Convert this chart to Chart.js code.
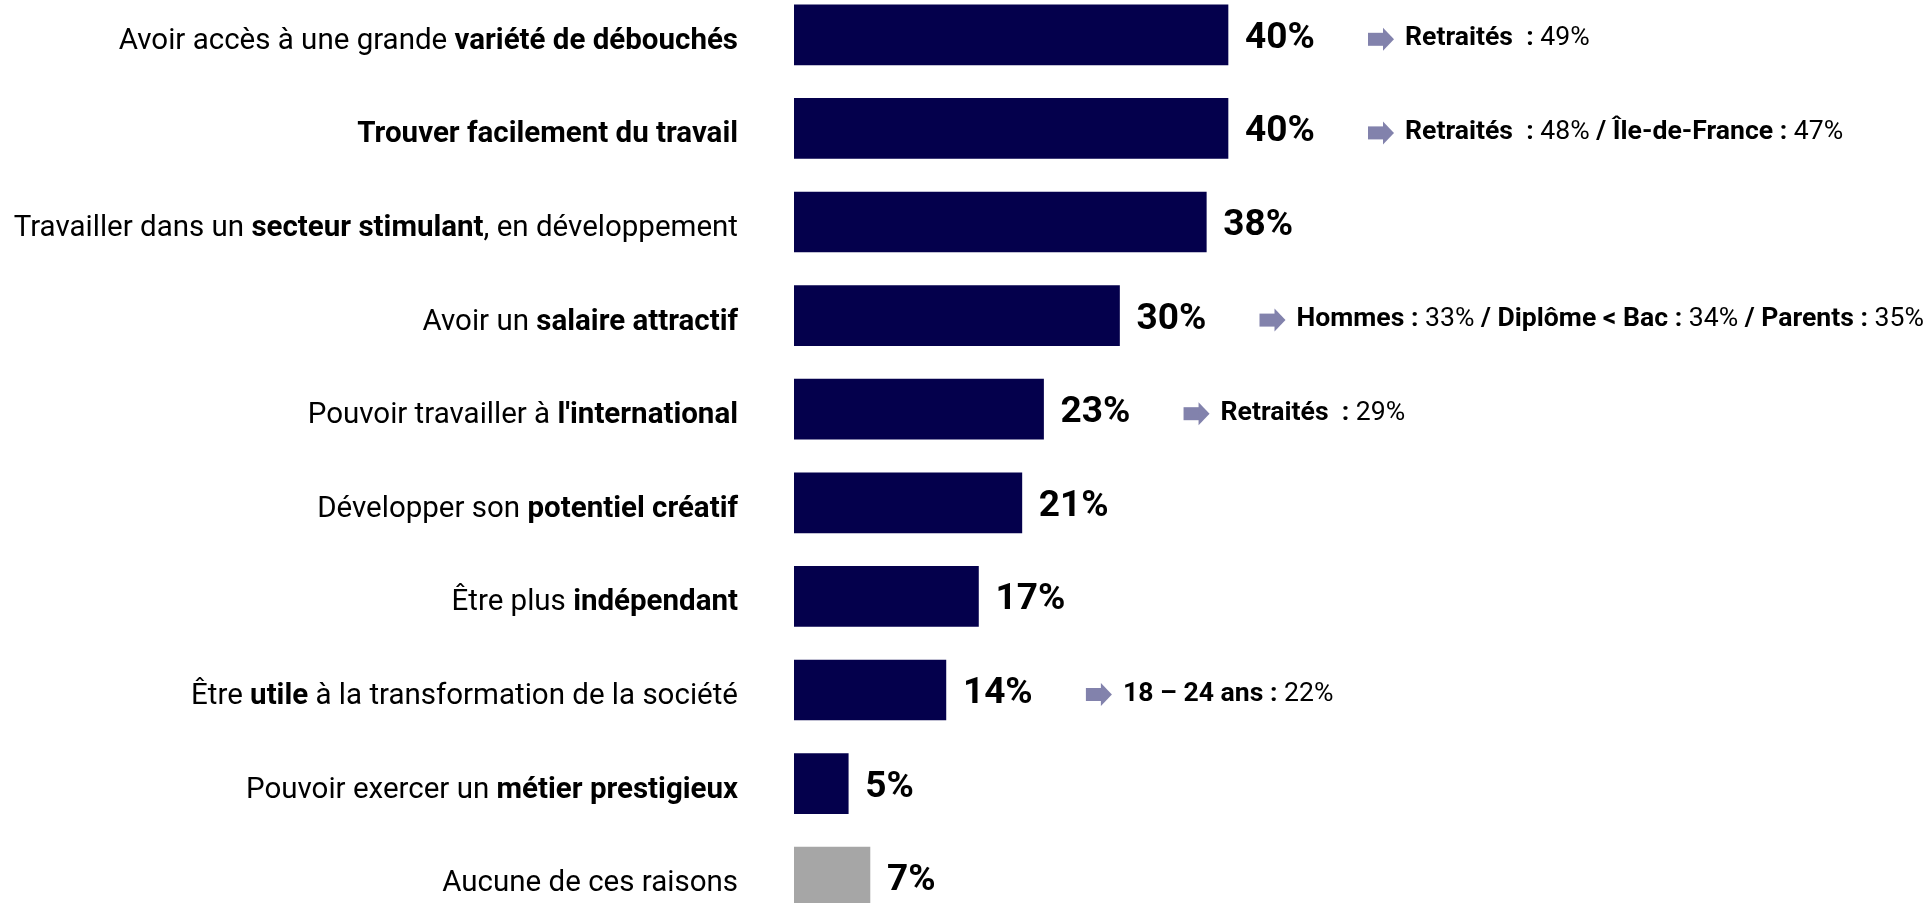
<!DOCTYPE html>
<html>
<head>
<meta charset="utf-8">
<script src="https://cdn.jsdelivr.net/npm/chart.js@4/dist/chart.umd.min.js"></script>
<style>
  html, body { margin: 0; padding: 0; background: #fff; overflow: hidden; }
  #wrap { position: absolute; left: 0; top: -12px; width: 1931px; height: 936px; }
</style>
</head>
<body>
<div id="wrap"><canvas id="chart" width="1931" height="936"></canvas></div>
<script>
// **...** marks the bold part of a text
const categories = [
  "Avoir accès à une grande **variété de débouchés**",
  "**Trouver facilement du travail**",
  "Travailler dans un **secteur stimulant**, en développement",
  "Avoir un **salaire attractif**",
  "Pouvoir travailler à **l'international**",
  "Développer son **potentiel créatif**",
  "Être plus **indépendant**",
  "Être **utile** à la transformation de la société",
  "Pouvoir exercer un **métier prestigieux**",
  "Aucune de ces raisons"
];

const values = [40, 40, 38, 30, 23, 21, 17, 14, 5, 7];

const notes = [
  "**Retraités  :** 49%",
  "**Retraités  :** 48% **/ Île-de-France :** 47%",
  "",
  "**Hommes :** 33% **/ Diplôme < Bac :** 34% **/ Parents :** 35%",
  "**Retraités  :** 29%",
  "",
  "",
  "**18 – 24 ans :** 22%",
  "",
  ""
];

const NAVY = "#04004c";
const GREY = "#a6a6a6";
const FONT = "Roboto, 'Noto Sans', sans-serif";

function plain(s) {
  return s.replace(/\*\*/g, "");
}

function drawRich(ctx, text, x, y, size, align) {
  const parts = text.split("**");
  let total = 0;
  parts.forEach((p, i) => {
    ctx.font = (i % 2 ? "bold " : "") + size + "px " + FONT;
    total += ctx.measureText(p).width;
  });
  let cx = align === "right" ? x - total : x;
  ctx.textAlign = "left";
  parts.forEach((p, i) => {
    ctx.font = (i % 2 ? "bold " : "") + size + "px " + FONT;
    ctx.fillText(p, cx, y);
    cx += ctx.measureText(p).width;
  });
}

const labelsPlugin = {
  id: "labelsPlugin",
  afterDatasetsDraw(chart) {
    const ctx = chart.ctx;
    const left = chart.chartArea.left;
    ctx.save();
    ctx.textBaseline = "alphabetic";
    chart.getDatasetMeta(0).data.forEach((bar, i) => {
      const cy = bar.y;
      ctx.fillStyle = "#000";
      drawRich(ctx, categories[i], left - 56, cy + 14, 29.5, "right");

      ctx.font = "bold 37px " + FONT;
      ctx.textAlign = "left";
      ctx.fillText(values[i] + "%", bar.x + 17, cy + 13);

      if (notes[i]) {
        const ax = bar.x + 140;
        const ay = cy + 4.5;
        ctx.fillStyle = "#8282ac";
        ctx.fillRect(ax, ay - 6.5, 16, 13);
        ctx.beginPath();
        ctx.moveTo(ax + 15, ay - 11.5);
        ctx.lineTo(ax + 26, ay);
        ctx.lineTo(ax + 15, ay + 11.5);
        ctx.closePath();
        ctx.fill();
        ctx.fillStyle = "#000";
        drawRich(ctx, notes[i], ax + 37, cy + 10.5, 26.6, "left");
      }
    });
    ctx.restore();
  }
};

new Chart(document.getElementById("chart"), {
  type: "bar",
  data: {
    labels: categories.map(plain),
    datasets: [
      {
        data: values,
        backgroundColor: values.map((v, i) => (i === values.length - 1 ? GREY : NAVY)),
        barThickness: 60,
        borderWidth: 0
      }
    ]
  },
  options: {
    indexAxis: "y",
    responsive: false,
    animation: false,
    layout: { padding: { left: 794, right: 52, top: 0, bottom: 0 } },
    scales: {
      x: { min: 0, max: 100, display: false, grid: { display: false } },
      y: { display: false, grid: { display: false } }
    },
    plugins: {
      legend: { display: false },
      tooltip: { enabled: false }
    }
  },
  plugins: [labelsPlugin]
});
</script>
</body>
</html>
